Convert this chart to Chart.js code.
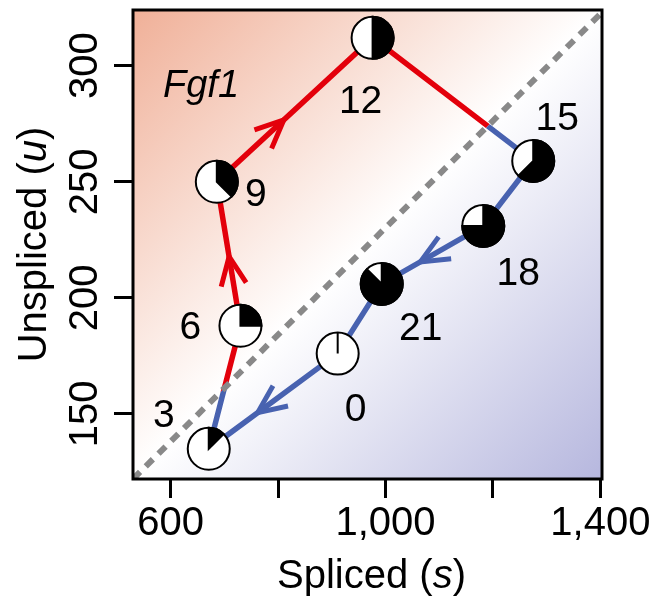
<!DOCTYPE html>
<html>
<head>
<meta charset="utf-8">
<script src="https://cdn.jsdelivr.net/npm/chart.js@4.4.1/dist/chart.umd.min.js"></script>
<style>
  body { margin: 0; background: #fff; }
</style>
</head>
<body>
<canvas id="velocity-chart" width="656" height="600"></canvas>
<script>
// circadian time points (hours) and their spliced / unspliced counts
const times = [0, 3, 6, 9, 12, 15, 18, 21];
const spliced = [911, 671, 730, 686, 976, 1275, 1182, 993];
const unspliced = [176, 135, 188, 250, 312, 259, 231, 206];

// steady-state line (u = gamma * s), two ends
const diagS = [530, 1403];
const diagU = [122, 323];

const xTicks = [600, 800, 1000, 1200, 1400];
const xTickLabels = ['600', '', '1,000', '', '1,400'];
const yTicks = [150, 200, 250, 300];
const yTickLabels = ['150', '200', '250', '300'];

const geneName = 'Fgf1';

// segments (start index along the loop) that carry an arrow head,
// and how far along the segment the tip sits
const arrowFrom = [0, 2, 3, 6];
const arrowAt = [0.62, 0.48, 0.43, 0.62];

// where each time label sits relative to its dot (pixels)
const labelDx = [18, -45, -50, 39, -12, 24, 35, 39];
const labelDy = [57, -33, 2, 13, 64, -42, 48, 45];

const RED = '#e3000b';
const BLUE = '#4862b0';
const FONT = '"Liberation Sans", Arial, Helvetica, sans-serif';

const loop = spliced.map((s, i) => ({ x: s, y: unspliced[i] }));
loop.push(loop[0]);

function diagPixels(chart) {
    const xs = chart.scales.x, ys = chart.scales.y;
    return [
        { x: xs.getPixelForValue(diagS[0]), y: ys.getPixelForValue(diagU[0]) },
        { x: xs.getPixelForValue(diagS[1]), y: ys.getPixelForValue(diagU[1]) }
    ];
}

// negative = above the steady-state line (red side)
function sideOf(chart, px, py) {
    const [a, b] = diagPixels(chart);
    return (b.x - a.x) * (py - a.y) - (b.y - a.y) * (px - a.x);
}

// clip the red copy of the loop above the line and the blue copy below it
const splitClip = {
    id: 'splitClip',
    beforeDatasetDraw(chart, args) {
        const side = chart.data.datasets[args.index].side;
        if (!side) return;
        const ctx = chart.ctx;
        const [a, b] = diagPixels(chart);
        const len = Math.hypot(b.x - a.x, b.y - a.y);
        const dx = (b.x - a.x) / len, dy = (b.y - a.y) / len;
        const k = side === 'red' ? 1 : -1;
        const nx = dy * k, ny = -dx * k;
        const F = 3000;
        ctx.save();
        ctx.beginPath();
        ctx.moveTo(a.x - dx * F, a.y - dy * F);
        ctx.lineTo(b.x + dx * F, b.y + dy * F);
        ctx.lineTo(b.x + dx * F + nx * F, b.y + dy * F + ny * F);
        ctx.lineTo(a.x - dx * F + nx * F, a.y - dy * F + ny * F);
        ctx.closePath();
        ctx.clip();
    },
    afterDatasetDraw(chart, args) {
        if (chart.data.datasets[args.index].side) chart.ctx.restore();
    }
};

const background = {
    id: 'background',
    beforeDatasetsDraw(chart) {
        const { ctx, chartArea: ca } = chart;
        const g = ctx.createLinearGradient(ca.left, ca.top, ca.right, ca.bottom);
        g.addColorStop(0, '#f0b098');
        g.addColorStop(0.5, '#ffffff');
        g.addColorStop(1, '#b6b7de');
        ctx.save();
        ctx.fillStyle = g;
        ctx.fillRect(ca.left, ca.top, ca.right - ca.left, ca.bottom - ca.top);
        ctx.restore();
    }
};

const decorations = {
    id: 'decorations',
    afterDatasetsDraw(chart) {
        const { ctx, chartArea: ca } = chart;
        const xs = chart.scales.x, ys = chart.scales.y;
        const px = loop.map(p => xs.getPixelForValue(p.x));
        const py = loop.map(p => ys.getPixelForValue(p.y));

        ctx.save();
        // open arrow heads
        ctx.lineWidth = 5;
        ctx.lineCap = 'butt';
        arrowFrom.forEach((i, n) => {
            const x0 = px[i], y0 = py[i], x1 = px[i + 1], y1 = py[i + 1];
            const f = arrowAt[n];
            const tx = x0 + (x1 - x0) * f, ty = y0 + (y1 - y0) * f;
            const ang = Math.atan2(y0 - y1, x0 - x1);
            const L = 31, spread = 0.42;
            ctx.strokeStyle = sideOf(chart, tx, ty) < 0 ? RED : BLUE;
            ctx.beginPath();
            ctx.moveTo(tx + L * Math.cos(ang - spread), ty + L * Math.sin(ang - spread));
            ctx.lineTo(tx, ty);
            ctx.lineTo(tx + L * Math.cos(ang + spread), ty + L * Math.sin(ang + spread));
            ctx.stroke();
        });

        // clock dots
        const r = 21;
        times.forEach((t, i) => {
            const x = px[i], y = py[i];
            ctx.beginPath();
            ctx.arc(x, y, r, 0, Math.PI * 2);
            ctx.fillStyle = '#fff';
            ctx.fill();
            ctx.beginPath();
            ctx.moveTo(x, y);
            ctx.arc(x, y, r, -Math.PI / 2, -Math.PI / 2 + t / 24 * Math.PI * 2);
            ctx.closePath();
            ctx.fillStyle = '#000';
            ctx.fill();
            ctx.lineWidth = 2;
            ctx.strokeStyle = '#000';
            ctx.stroke();
            ctx.beginPath();
            ctx.arc(x, y, r, 0, Math.PI * 2);
            ctx.stroke();
        });

        // time labels
        ctx.fillStyle = '#000';
        ctx.font = '39px ' + FONT;
        ctx.textAlign = 'center';
        ctx.textBaseline = 'middle';
        times.forEach((t, i) => {
            ctx.fillText(String(t), px[i] + labelDx[i], py[i] + labelDy[i]);
        });

        // gene name
        ctx.font = 'italic 38px ' + FONT;
        ctx.fillText(geneName, ca.left + 68, ca.top + 76);

        // frame
        ctx.lineWidth = 3;
        ctx.strokeRect(ca.left, ca.top, ca.right - ca.left, ca.bottom - ca.top);
        ctx.restore();
    },
    afterDraw(chart) {
        const { ctx, chartArea: ca } = chart;
        ctx.save();
        ctx.fillStyle = '#000';
        ctx.textBaseline = 'middle';
        const title = (parts, cx, cy, rot) => {
            ctx.save();
            ctx.translate(cx, cy);
            ctx.rotate(rot);
            let total = 0;
            parts.forEach(p => { ctx.font = p[1] + '40px ' + FONT; total += ctx.measureText(p[0]).width; });
            let x = -total / 2;
            ctx.textAlign = 'left';
            parts.forEach(p => {
                ctx.font = p[1] + '40px ' + FONT;
                ctx.fillText(p[0], x, 0);
                x += ctx.measureText(p[0]).width;
            });
            ctx.restore();
        };
        title([['Spliced (', ''], ['s', 'italic '], [')', '']], (ca.left + ca.right) / 2 + 4, 577, 0);
        title([['Unspliced (', ''], ['u', 'italic '], [')', '']], 35, (ca.top + ca.bottom) / 2, -Math.PI / 2);
        ctx.restore();
    }
};

const canvas = document.querySelector('#velocity-chart');

new Chart(canvas.getContext('2d'), {
    type: 'scatter',
    data: {
        datasets: [
            {
                label: 'steady state',
                data: diagS.map((s, i) => ({ x: s, y: diagU[i] })),
                showLine: true,
                borderColor: '#898989',
                borderWidth: 6,
                borderDash: [10, 8],
                pointRadius: 0,
                order: 0
            },
            {
                label: 'induction',
                side: 'red',
                data: loop,
                showLine: true,
                borderColor: RED,
                borderWidth: 5.5,
                pointRadius: 0,
                order: 1
            },
            {
                label: 'repression',
                side: 'blue',
                data: loop,
                showLine: true,
                borderColor: BLUE,
                borderWidth: 5.5,
                pointRadius: 0,
                order: 2
            }
        ]
    },
    options: {
        responsive: false,
        animation: false,
        layout: { padding: { top: 10, right: 54, left: 0, bottom: 0 } },
        plugins: { legend: { display: false }, tooltip: { enabled: false } },
        scales: {
            x: {
                type: 'linear',
                min: 530,
                max: 1403,
                afterBuildTicks: scale => { scale.ticks = xTicks.map(v => ({ value: v })); },
                afterFit: scale => { scale.height = 121; },
                border: { display: false },
                grid: { drawOnChartArea: false, drawTicks: true, tickLength: 19, tickWidth: 3, tickColor: '#000' },
                ticks: {
                    color: '#000',
                    font: { family: FONT, size: 40 },
                    padding: 2,
                    maxRotation: 0,
                    autoSkip: false,
                    callback: value => xTickLabels[xTicks.indexOf(value)]
                }
            },
            y: {
                type: 'linear',
                min: 122,
                max: 324,
                afterBuildTicks: scale => { scale.ticks = yTicks.map(v => ({ value: v })); },
                afterFit: scale => { scale.width = 133; },
                border: { display: false },
                grid: { drawOnChartArea: false, drawTicks: true, tickLength: 19, tickWidth: 3, tickColor: '#000' },
                ticks: {
                    color: '#000',
                    font: { family: FONT, size: 40, lineHeight: 0.4 },
                    padding: -5,
                    minRotation: 90,
                    maxRotation: 90,
                    crossAlign: 'center',
                    autoSkip: false,
                    callback: value => yTickLabels[yTicks.indexOf(value)]
                }
            }
        }
    },
    plugins: [background, splitClip, decorations]
});
</script>
</body>
</html>
